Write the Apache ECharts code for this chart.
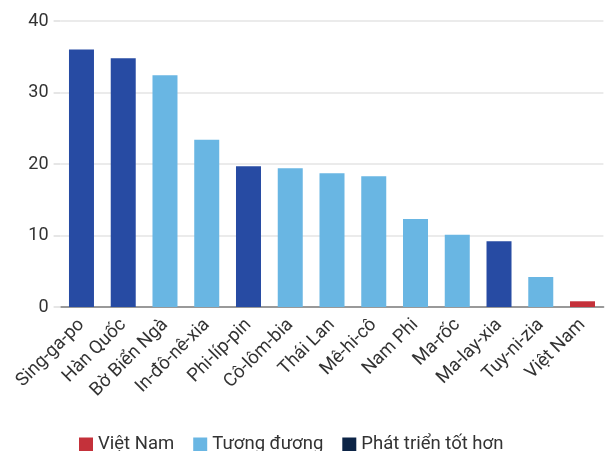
<!DOCTYPE html>
<html><head><meta charset="utf-8">
<script src="https://cdn.jsdelivr.net/npm/echarts@6/dist/echarts.min.js"></script>
<style>html,body{margin:0;padding:0;background:#fff}#c{width:605px;height:451px}</style>
</head><body><div id="c"></div>
<script>
const categories = ["Sing-ga-po","Hàn Quốc","Bờ Biển Ngà","In-đô-nê-xia","Phi-líp-pin","Cô-lôm-bia","Thái Lan","Mê-hi-cô","Nam Phi","Ma-rốc","Ma-lay-xia","Tuy-ni-zia","Việt Nam"];
const values = [36.0, 34.8, 32.4, 23.4, 19.7, 19.4, 18.7, 18.3, 12.3, 10.1, 9.2, 4.2, 0.8];
const groups = ["dev","dev","eq","eq","dev","eq","eq","eq","eq","eq","dev","eq","vn"];
const seriesNames = {vn:"Việt Nam", eq:"Tương đương", dev:"Phát triển tốt hơn"};
const legendColors = {vn:"#C4313A", eq:"#69B6E3", dev:"#0C2446"};
const barColors = {vn:"#C4313A", eq:"#69B6E3", dev:"#274BA3"};

const keys = ["vn","eq","dev"];
const series = keys.map(k => ({
  name: seriesNames[k],
  type: "bar",
  stack: "s",
  barWidth: 25,
  itemStyle: {color: legendColors[k]},
  data: values.map((v,i) => groups[i]===k ? {value:v, itemStyle:{color:barColors[k]}} : null)
}));

const chart = echarts.init(document.getElementById("c"), null, {renderer:"canvas"});
chart.setOption({
  animation:false,
  textStyle:{fontFamily:"Roboto"},
  grid:{left:60.6, right:1.6, top:21, bottom:144, containLabel:false},
  legend:{top:430, left:74, itemWidth:14, itemHeight:14, itemGap:19,
    icon:"rect",
    textStyle:{fontSize:18.5, color:"#333", fontFamily:"Roboto"},
    data: keys.map(k=>seriesNames[k])},
  xAxis:{type:"category", data:categories,
    axisLine:{lineStyle:{color:"#999", width:2}},
    axisTick:{show:false},
    axisLabel:{rotate:45, fontSize:18.5, color:"#333", margin:15, interval:0, fontFamily:"Roboto"}},
  yAxis:{type:"value", min:0, max:40, interval:10,
    axisLine:{show:false},
    axisTick:{show:true, length:7, lineStyle:{color:"#e6e6e6", width:2}},
    splitLine:{lineStyle:{color:"#ebebeb", width:2}},
    axisLabel:{fontSize:18, color:"#333", margin:12, fontFamily:"Roboto"}},
  series: series
});
</script></body></html>
